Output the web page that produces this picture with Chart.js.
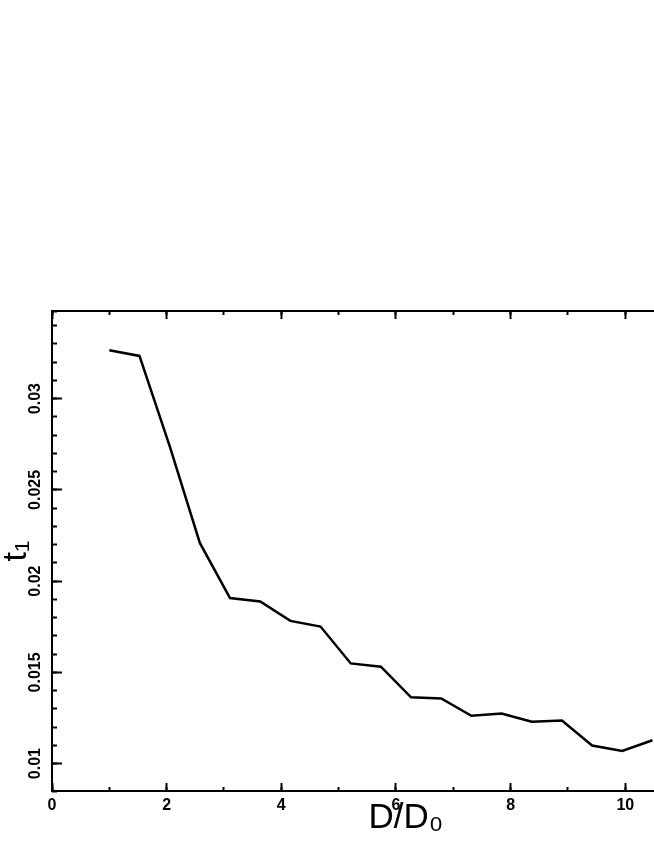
<!DOCTYPE html>
<html>
<head>
<meta charset="utf-8">
<script src="https://cdn.jsdelivr.net/npm/chart.js@4.4.1/dist/chart.umd.min.js"></script>
<style>
html, body { margin: 0; padding: 0; background: #fff; overflow: hidden; }
#wrap { position: absolute; left: 0; top: 0; width: 760px; height: 846px; }
</style>
</head>
<body>
<div id="wrap"><canvas id="c"></canvas></div>
<script>
// ---- data ----
const dRatio = [1.000, 1.526, 2.053, 2.579, 3.105, 3.632, 4.158, 4.684, 5.211, 5.737,
                6.263, 6.789, 7.316, 7.842, 8.368, 8.895, 9.421, 9.947, 10.474];
const t1Values = [0.03265, 0.03234, 0.02740, 0.02209, 0.01907, 0.01888, 0.01782, 0.01751, 0.01549, 0.01531,
                  0.01363, 0.01357, 0.01262, 0.01275, 0.01229, 0.01236, 0.01099, 0.01069, 0.01128];

const xTickValues = [0, 2, 4, 6, 8, 10];
const xTickLabels = ['0', '2', '4', '6', '8', '10'];
const yTickValues = [0.01, 0.015, 0.02, 0.025, 0.03];
const yTickLabels = ['0.01', '0.015', '0.02', '0.025', '0.03'];
const xTitle = 'D/D\u2080';
const yTitle = 't\u2081';
const xRange = [0, 12.35];
const yRange = [0.0085, 0.0348];
const xMinorStep = 1;
const yMinorStep = 0.001;

// ---- chart ----
const FAMILY = "'Liberation Sans', Arial, Helvetica, sans-serif";
const tickFont = { family: FAMILY, size: 16, weight: 'bold' };
const BLACK = '#000';

function tickGrid(len) {
  return { display: true, drawOnChartArea: false, drawTicks: true,
           tickLength: len, tickWidth: 2, tickColor: BLACK };
}
function setTicks(values) {
  return s => { s.ticks = values.map(v => ({ value: v })); };
}

const points = dRatio.map((x, i) => ({ x: x, y: t1Values[i] }));

new Chart(document.getElementById('c'), {
  type: 'line',
  data: {
    datasets: [{
      data: points,
      borderColor: BLACK,
      borderWidth: 2.5,
      pointRadius: 0,
      fill: false,
      tension: 0,
      xAxisID: 'x',
      yAxisID: 'y'
    }]
  },
  options: {
    responsive: true,
    maintainAspectRatio: false,
    animation: false,
    devicePixelRatio: 1,
    layout: { padding: { top: 311, left: 0, right: 0, bottom: 0 } },
    plugins: { legend: { display: false }, tooltip: { enabled: false } },
    scales: {
      x: {
        type: 'linear', axis: 'x', position: 'bottom', weight: 1,
        min: xRange[0], max: xRange[1],
        afterBuildTicks: setTicks(xTickValues),
        ticks: { font: tickFont, color: BLACK, padding: 13, maxRotation: 0, autoSkip: false,
                 callback: (v, i) => xTickLabels[i] },
        grid: tickGrid(-8),
        border: { display: true, color: BLACK, width: 2 },
        title: { display: true, text: xTitle, color: BLACK,
                 font: { family: FAMILY, size: 35, weight: 'normal' },
                 padding: { top: 0, bottom: 7 } },
        afterFit: s => { s.height = 55; }
      },
      xMinor: {
        type: 'linear', axis: 'x', position: 'bottom', weight: 0,
        min: xRange[0], max: xRange[1],
        ticks: { display: false, stepSize: xMinorStep },
        grid: tickGrid(-4),
        border: { display: false },
        afterFit: s => { s.height = 0; }
      },
      xTop: {
        type: 'linear', axis: 'x', position: 'top', weight: 1,
        min: xRange[0], max: xRange[1],
        afterBuildTicks: setTicks(xTickValues),
        ticks: { display: false },
        grid: tickGrid(-8),
        border: { display: true, color: BLACK, width: 2 },
        afterFit: s => { s.height = 0; }
      },
      xTopMinor: {
        type: 'linear', axis: 'x', position: 'top', weight: 0,
        min: xRange[0], max: xRange[1],
        ticks: { display: false, stepSize: xMinorStep },
        grid: tickGrid(-4),
        border: { display: false },
        afterFit: s => { s.height = 0; }
      },
      y: {
        type: 'linear', axis: 'y', position: 'left', weight: 1,
        min: yRange[0], max: yRange[1],
        afterBuildTicks: setTicks(yTickValues),
        ticks: { font: tickFont, color: BLACK, padding: 6, minRotation: 90, maxRotation: 90,
                 crossAlign: 'center', autoSkip: false,
                 callback: (v, i) => yTickLabels[i] },
        grid: tickGrid(-10),
        border: { display: true, color: BLACK, width: 2 },
        title: { display: true, text: yTitle, color: BLACK,
                 font: { family: FAMILY, size: 34, weight: 'normal' },
                 padding: { top: -4, bottom: 0 } },
        afterFit: s => { s.width = 52; }
      },
      yMinor: {
        type: 'linear', axis: 'y', position: 'left', weight: 0,
        min: yRange[0], max: yRange[1],
        ticks: { display: false, stepSize: yMinorStep },
        grid: tickGrid(-5),
        border: { display: false },
        afterFit: s => { s.width = 0; }
      }
    }
  }
});
</script>
</body>
</html>
